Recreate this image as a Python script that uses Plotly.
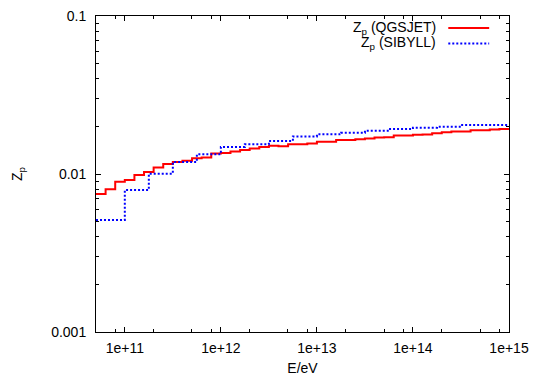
import numpy as np
import plotly.graph_objects as go

# ---- data (log10 of bin lower edges in eV, and Z_p values) ----
logE_qgsjet = [10.7, 10.8, 10.9, 11.0, 11.1, 11.2, 11.3, 11.4, 11.5, 11.6,
               11.7, 11.8, 11.9, 12.0, 12.1, 12.2, 12.3, 12.4, 12.5, 12.6,
               12.7, 12.8, 12.9, 13.0, 13.1, 13.2, 13.3, 13.4, 13.5, 13.6,
               13.7, 13.8, 13.9, 14.0, 14.1, 14.2, 14.3, 14.4, 14.5, 14.6,
               14.7, 14.8, 14.9, 15.0]
zp_qgsjet = [0.00747, 0.0080, 0.00893, 0.00916, 0.00986, 0.0103, 0.0110, 0.01156, 0.0119, 0.01214,
             0.01256, 0.0127, 0.0135, 0.0136, 0.0139, 0.0142, 0.0145, 0.0148, 0.0151, 0.0150,
             0.0154, 0.0154, 0.0156, 0.0160, 0.0160, 0.0164, 0.0164, 0.0166, 0.0168, 0.0170,
             0.0171, 0.0175, 0.0175, 0.0177, 0.0178, 0.0181, 0.0184, 0.0186, 0.0186, 0.0189,
             0.0189, 0.0191, 0.0193, 0.0193]

logE_sibyll = [10.7, 11.0, 11.25, 11.5, 11.75, 12.0, 12.25, 12.5, 12.75, 13.0,
               13.25, 13.5, 13.75, 14.0, 14.25, 14.5, 14.75, 15.0]
zp_sibyll = [0.00512, 0.00792, 0.01005, 0.0119, 0.01333, 0.01483, 0.01542, 0.01617, 0.0173, 0.01782,
             0.01825, 0.0188, 0.01927, 0.01964, 0.01993, 0.0204, 0.0204, 0.0204]

names = ["Z<sub>p</sub> (QGSJET)", "Z<sub>p</sub> (SIBYLL)"]
x_tickvals = [1e11, 1e12, 1e13, 1e14, 1e15]
x_ticktext = ["1e+11", "1e+12", "1e+13", "1e+14", "1e+15"]
y_tickvals = [0.001, 0.01, 0.1]
y_ticktext = ["0.001", "0.01", "0.1"]
x_minor = [m * 10.0 ** d for d in range(10, 15) for m in (2, 5, 8)]
y_minor = [m * 10.0 ** d for d in (-3, -2) for m in range(2, 10)]

FONT = "Liberation Sans, Arial, sans-serif"
RED = "#ff0000"
BLUE = "#0000ff"

fig = go.Figure()
fig.add_trace(go.Scatter(x=10 ** np.array(logE_qgsjet), y=zp_qgsjet, mode="lines",
                         line=dict(shape="hv", color=RED, width=2), name=names[0],
                         showlegend=False))
fig.add_trace(go.Scatter(x=10 ** np.array(logE_sibyll), y=zp_sibyll, mode="lines",
                         line=dict(shape="hv", color=BLUE, width=2, dash="2px,2px"),
                         name=names[1], showlegend=False))

axis_common = dict(type="log", showgrid=False, zeroline=False, showline=True,
                   linecolor="black", linewidth=1, mirror="allticks", ticks="inside",
                   ticklen=5, tickwidth=1, tickcolor="black", automargin=False,
                   tickfont=dict(family=FONT, size=14, color="black"))

fig.update_xaxes(**axis_common, range=[10.7, 15], tickmode="array",
                 tickvals=x_tickvals, ticktext=x_ticktext, ticklabelstandoff=3,
                 minor=dict(tickvals=x_minor, ticks="inside", ticklen=3,
                            tickcolor="black", tickwidth=1, showgrid=False),
                 title=dict(text="E/eV", font=dict(family=FONT, size=14, color="black"),
                            standoff=13))
fig.update_yaxes(**axis_common, range=[-3, -1], tickmode="array",
                 tickvals=y_tickvals, ticktext=y_ticktext, ticklabelstandoff=6,
                 minor=dict(tickvals=y_minor, ticks="inside", ticklen=3,
                            tickcolor="black", tickwidth=1, showgrid=False),
                 title=dict(text="Z<sub>p</sub>", font=dict(family=FONT, size=14, color="black"),
                            standoff=25))

# legend drawn gnuplot-style: text right-aligned, sample line to the right
leg_rows = [(names[0], RED, "solid", 0.962), (names[1], BLUE, "2px,2px", 0.913)]
for text, col, dash, yy in leg_rows:
    fig.add_annotation(xref="paper", yref="paper", x=0.827, y=yy, text=text,
                       showarrow=False, xanchor="right", yanchor="middle",
                       font=dict(family=FONT, size=14, color="black"))
    fig.add_shape(type="line", xref="paper", yref="paper", x0=0.853, x1=0.952,
                  y0=yy, y1=yy, line=dict(color=col, width=2, dash=dash))

fig.update_layout(width=535, height=376, margin=dict(l=96, r=26, t=16, b=44),
                  paper_bgcolor="white", plot_bgcolor="white",
                  font=dict(family=FONT, size=14, color="black"))

fig.write_html("out.html")
